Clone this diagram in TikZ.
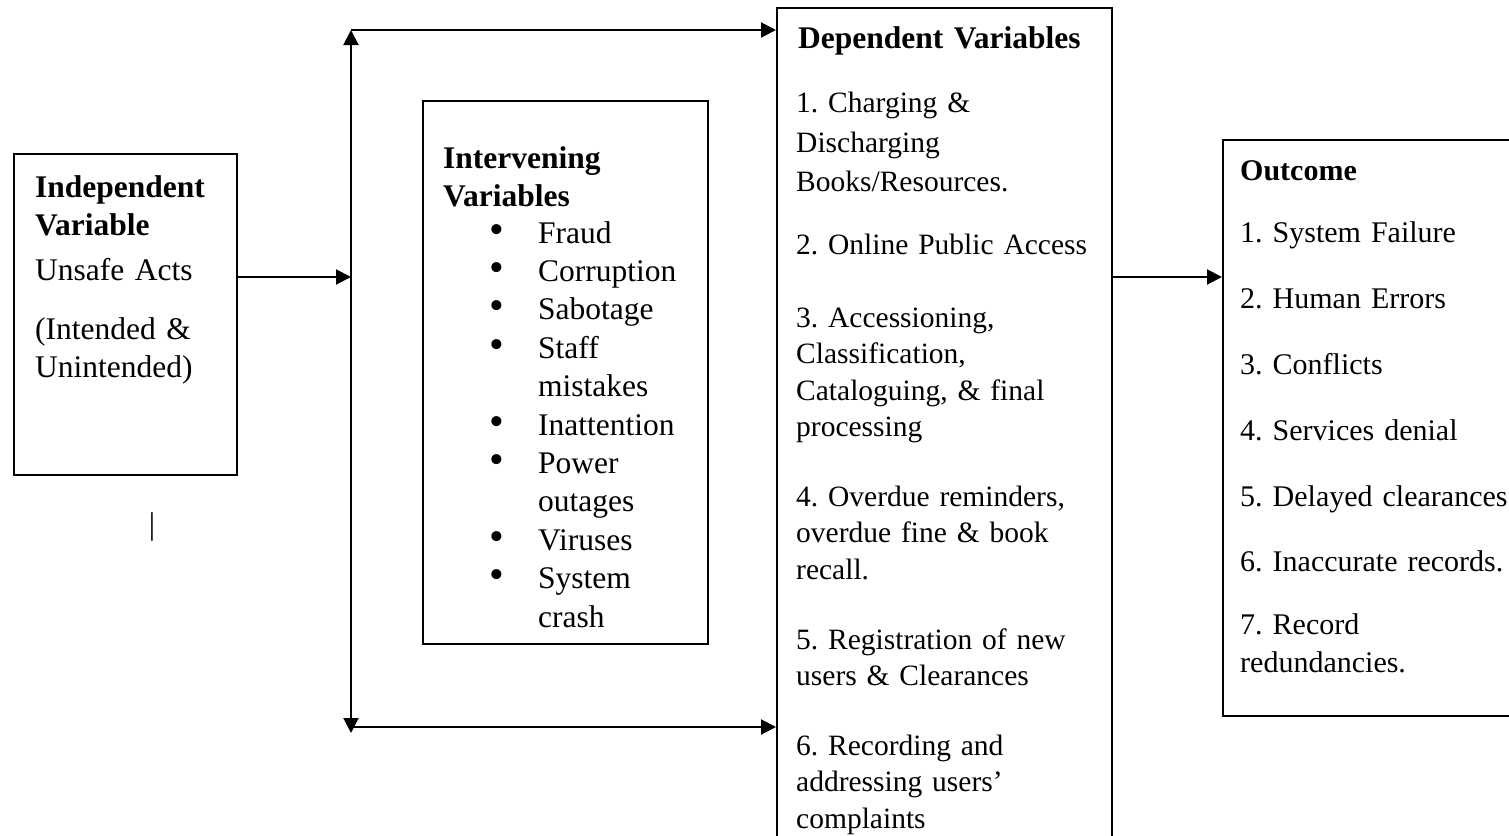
\documentclass[tikz,border=0pt]{standalone}
\usepackage{fontspec}
\setmainfont{Liberation Serif}
\usepackage{tikz}
\usetikzlibrary{positioning}
\usetikzlibrary{arrows.meta}
\tikzstyle{var_box} = [draw=black, line width=2.2pt, inner sep=0pt, anchor=north west]
\tikzstyle{var_txt} = [anchor=base west, align=left, inner sep=0pt, text width=400pt, font=\fontsize{31.5}{38}\selectfont\frenchspacing]
\tikzstyle{link} = [line width=2pt, ->]
\newcommand{\bul}{\leavevmode\llap{{\fontsize{42}{36}\selectfont\textbullet}\hspace{34pt}}}

\begin{document}
\begin{tikzpicture}[x=1pt,y=-1pt,>={Triangle[length=15pt,width=15pt]}]
\useasboundingbox (0,0) rectangle (1509,835);
\clip (0,0) rectangle (1509,835);
% boxes
\node [var_box, minimum width=223pt, minimum height=321pt] (indep) at (13,153) {};
\node [var_box, minimum width=285pt, minimum height=543pt] (intv) at (422,100) {};
\node [var_box, minimum width=335pt, minimum height=880pt] (dep) at (776,7) {};
\node [var_box, minimum width=330pt, minimum height=576pt] (outc) at (1222,139) {};
% texts
\node [var_txt] (indeptxt) at (35,197)
  {\textbf{Independent}\\ \textbf{Variable}\\[7pt] Unsafe Acts\\[21pt] (Intended \&\\ Unintended)};
\node [var_txt] (intvhead) at (443,168)
  {\textbf{Intervening}\\ \textbf{Variables}};
\node [var_txt, font=\fontsize{31.5}{38.4}\selectfont] (intvlist) at (538,243)
  {\bul Fraud\\ \bul Corruption\\ \bul Sabotage\\ \bul Staff\\ mistakes\\ \bul Inattention\\
   \bul Power\\ outages\\ \bul Viruses\\ \bul System\\ crash};
\node [var_txt] (dephead) at (798,48) {\textbf{Dependent Variables}};
\node [var_txt, font=\fontsize{29.5}{36.5}\selectfont\frenchspacing] (deplist) at (796,112)
  {1. Charging \&\\[3.5pt] Discharging\\[2.5pt] Books/Resources.\\[26.5pt]
   2. Online Public Access\\[36.5pt]
   3. Accessioning,\\ Classification,\\ Cataloguing, \& final\\ processing\\[33pt]
   4. Overdue reminders,\\ overdue fine \& book\\ recall.\\[33.5pt]
   5. Registration of new\\ users \& Clearances\\[33pt]
   6. Recording and\\ addressing users’\\ complaints};
\node [var_txt, font=\fontsize{30}{38}\selectfont\frenchspacing] (outctxt) at (1240,180)
  {\textbf{Outcome}\\[24pt] 1. System Failure\\[28pt] 2. Human Errors\\[28pt] 3. Conflicts\\[28pt]
   4. Services denial\\[28pt] 5. Delayed clearances\\[27pt] 6. Inaccurate records.\\[25pt]
   7. Record\\ redundancies.};
\node [var_txt, anchor=center, text width=] (mark) at (152,527) {|};
% connectors
\coordinate (forktop) at (351,30);
\coordinate (forkmid) at (351,277);
\coordinate (forkbot) at (351,733);
\coordinate (forklow) at (351,727);
\draw [link] (indep.east |- forkmid) -- (forkmid);
\draw [link, <->] (forktop) -- (forkbot);
\draw [link] (forktop) -- (dep.west |- forktop);
\draw [link] (forklow) -- (dep.west |- forklow);
\draw [link] (dep.east |- forkmid) -- (outc.west |- forkmid);
\end{tikzpicture}
\end{document}
